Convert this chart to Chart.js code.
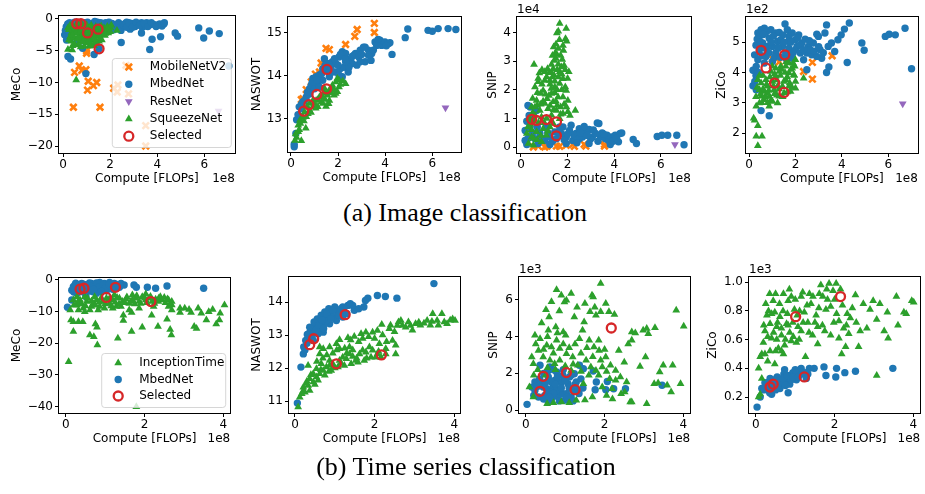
<!DOCTYPE html>
<html>
<head>
<meta charset="utf-8">
<script src="https://cdn.jsdelivr.net/npm/chart.js@4.4.1/dist/chart.umd.min.js"></script>
<style>
  body { margin: 0; background: #fff; width: 925px; height: 494px; position: relative; overflow: hidden; }
  canvas.panel { position: absolute; }
  .caption { position: absolute; font-family: "Liberation Serif", serif; font-size: 26px; line-height: 26px;
             color: #000; white-space: nowrap; transform: translateX(-50%); }
</style>
</head>
<body>
<canvas id="p1" class="panel"></canvas>
<canvas id="p2" class="panel"></canvas>
<canvas id="p3" class="panel"></canvas>
<canvas id="p4" class="panel"></canvas>
<canvas id="p5" class="panel"></canvas>
<canvas id="p6" class="panel"></canvas>
<canvas id="p7" class="panel"></canvas>
<canvas id="p8" class="panel"></canvas>
<div class="caption" style="left:465px; top:200px;">(a) Image classification</div>
<div class="caption" style="left:466px; top:454px;">(b) Time series classification</div>

<script>
// ---- tick labels ----
const xTicksImg = [0, 2, 4, 6];
const xTicksTs = [0, 2, 4];
const yTicksImgMeco = [0, -5, -10, -15, -20];
const yTicksImgNaswot = [13, 14, 15];
const yTicksImgSnip = [0, 1, 2, 3, 4];
const yTicksImgZico = [2, 3, 4, 5];
const yTicksTsMeco = [0, -10, -20, -30, -40];
const yTicksTsNaswot = [11, 12, 13, 14];
const yTicksTsSnip = [0, 2, 4, 6];
const yTicksTsZico = [0.2, 0.4, 0.6, 0.8, 1.0];

// ---- image classification: x in 1e8 FLOPs ----
const imgMecoMobile = [[0.44,-13.9],[0.49,-8.4],[0.69,-7.4],[0.8,-8.1],[0.97,-8.0],[1.0,-5.4],[1.0,-5.0],[1.07,-9.8],[1.04,-11.2],[1.29,-10.5],[1.43,-10.0],[1.57,-13.9],[2.15,-10.9],[2.3,-11.5],[2.33,-10.4],[2.67,-7.3],[2.78,-11.8],[3.51,-16.8],[3.51,-20.0]];
const imgMecoMbed = [[0.07,-2.5],[0.14,-1.2],[0.28,-0.6],[0.35,-1.9],[0.49,-0.5],[0.69,-1.3],[0.83,-0.9],[1.04,-0.5],[1.25,-0.7],[1.25,-1.6],[1.46,-0.5],[1.67,-0.9],[1.67,-1.9],[1.81,-0.6],[1.81,-1.4],[2.0,-1.2],[2.08,-0.7],[2.15,-1.7],[2.22,-1.1],[2.36,-0.6],[2.46,-1.8],[2.5,-1.2],[2.64,-0.7],[2.78,-1.1],[2.85,-1.6],[2.92,-0.7],[3.06,-1.2],[3.19,-0.8],[3.33,-0.6],[3.36,-1.3],[3.33,-2.2],[3.47,-1.1],[3.68,-0.9],[3.89,-0.9],[4.1,-0.8],[4.28,-0.8],[3.78,-3.2],[3.68,-4.8],[4.14,-2.8],[2.47,-3.7],[4.76,-2.2],[4.86,-2.7],[5.76,-1.4],[5.97,-3.0],[6.21,-1.9],[6.63,-2.3],[7.04,-7.4],[0.21,-5.9],[0.32,-6.3],[0.97,-8.6],[1.32,-5.6],[1.53,-4.7],[0.56,-3.8],[0.83,-4.6],[0.6,-0.9],[0.95,-1.2],[1.15,-1.0],[1.55,-1.1],[1.95,-0.5],[2.7,-0.5],[3.0,-1.0],[3.55,-0.6],[0.15,-3.3],[0.35,-2.9],[0.1,-1.8],[0.4,-1.0],[0.55,-1.6],[0.9,-0.6],[1.1,-1.3],[1.35,-0.4],[1.6,-0.6],[1.75,-1.1],[1.9,-0.9],[2.05,-1.5],[2.3,-0.9],[2.4,-1.4],[2.55,-0.9],[2.7,-1.3],[2.8,-0.6],[2.95,-1.3],[3.1,-0.5],[3.25,-1.0],[3.45,-0.7],[3.6,-1.2],[3.75,-0.6],[3.95,-1.2],[4.2,-1.1],[4.3,-0.6],[0.2,-0.8],[0.25,-2.2]];
const imgMecoRes = [[6.6,-14.5]];
const imgMecoSqueeze = [[0.21,-1.4],[0.35,-2.2],[0.42,-1.2],[0.49,-3.0],[0.63,-1.7],[0.69,-2.5],[0.76,-3.5],[0.83,-1.2],[0.9,-1.9],[0.97,-3.0],[1.04,-3.8],[1.11,-1.4],[1.18,-2.5],[1.25,-3.3],[1.32,-1.9],[1.39,-1.2],[1.46,-2.7],[1.53,-3.5],[1.6,-1.7],[1.67,-2.5],[1.74,-1.4],[1.81,-1.9],[1.88,-1.2],[1.94,-1.7],[2.01,-1.4],[2.29,-1.8],[0.21,-4.8],[0.39,-4.9],[0.56,-9.6],[0.35,-3.5],[0.63,-4.1],[0.9,-4.3],[1.11,-4.3],[1.32,-4.2],[0.56,-0.9],[1.0,-0.9],[0.76,-0.6],[0.3,-1.0],[0.3,-2.8],[0.45,-1.8],[0.55,-2.2],[0.6,-3.2],[0.7,-1.1],[0.8,-2.9],[0.88,-1.5],[0.95,-2.4],[1.0,-3.4],[1.1,-2.0],[1.15,-3.1],[1.2,-1.0],[1.28,-2.3],[1.35,-3.0],[1.42,-1.5],[1.5,-2.2],[1.58,-3.0],[1.62,-1.1],[1.7,-2.0],[1.78,-2.6],[1.85,-1.6],[1.92,-2.2],[1.2,-4.0],[0.5,-4.0],[0.75,-4.4],[1.45,-3.9],[0.25,-1.7],[0.25,-3.3],[0.4,-2.5],[0.4,-4.2],[0.5,-1.5],[0.65,-2.9],[0.65,-0.9],[0.72,-2.0],[0.85,-3.6],[0.85,-2.3],[0.92,-1.0],[1.05,-1.7],[1.05,-2.7],[1.15,-3.7],[1.22,-1.6],[1.3,-2.7],[1.38,-3.6],[1.4,-2.1],[1.55,-1.3],[1.55,-2.6],[1.65,-3.3],[1.72,-1.7],[1.8,-2.3],[1.9,-1.5],[2.0,-2.0],[2.05,-1.0]];
const imgMecoSel = [[0.58,-0.75],[0.76,-0.75],[1.04,-2.2],[1.49,-1.6],[1.53,-4.7]];

const imgNaswotMobile = [[0.44,13.45],[0.51,13.47],[0.65,13.68],[0.86,13.86],[1.04,14.04],[1.21,14.09],[1.28,14.3],[1.49,14.64],[1.63,14.61],[2.32,14.73],[2.71,14.92],[2.81,15.08],[3.54,15.22],[3.54,15.01]];
const imgNaswotMbed = [[0.14,12.35],[0.14,12.41],[0.21,12.66],[0.24,12.98],[0.35,13.28],[0.51,13.4],[0.65,13.51],[0.79,13.7],[0.86,13.78],[0.93,13.94],[1.07,13.98],[1.21,14.02],[1.42,14.4],[1.49,14.13],[1.63,14.25],[1.76,14.33],[1.9,14.29],[2.04,14.44],[2.18,14.56],[2.32,14.52],[2.39,14.36],[2.53,14.4],[2.6,14.29],[2.74,14.52],[2.8,14.25],[2.94,14.6],[3.08,14.67],[3.15,14.33],[3.29,14.6],[3.4,14.36],[3.43,14.52],[3.57,14.79],[3.78,14.83],[3.85,14.71],[3.99,14.79],[4.13,14.75],[4.2,14.77],[4.29,14.5],[4.85,14.89],[4.96,15.09],[5.82,15.06],[6.0,15.04],[6.25,15.1],[6.67,15.1],[7.0,15.08],[1.9,14.09],[2.1,14.17],[2.18,13.98],[2.25,14.2],[2.43,14.09],[2.04,14.02],[2.46,14.2],[1.63,13.98],[1.35,13.9],[1.14,13.82],[1.0,13.7],[1.76,14.09],[1.21,13.74],[0.79,13.58],[0.58,13.43],[0.44,13.24],[1.35,14.17],[1.56,14.29],[2.32,14.33],[2.67,14.48],[2.88,14.44],[3.15,14.67],[2.94,14.33],[3.29,14.48],[3.64,14.71],[0.3,13.1],[0.45,13.35],[0.7,13.62],[0.9,13.85],[1.1,13.9],[1.3,14.05],[1.45,14.25],[1.7,14.2],[1.85,14.4],[2.0,14.25],[2.1,14.5],[2.3,14.4],[2.6,14.45],[3.0,14.5],[3.5,14.6],[3.7,14.85],[4.05,14.7]];
const imgNaswotRes = [[6.56,13.26]];
const imgNaswotSqueeze = [[0.17,12.5],[0.24,12.57],[0.44,12.49],[0.31,12.85],[0.38,12.97],[0.51,13.03],[0.63,12.78],[0.72,13.12],[0.79,13.2],[0.93,13.28],[1.0,13.36],[1.07,13.43],[1.14,13.28],[1.21,13.51],[1.35,13.51],[1.49,13.59],[1.63,13.67],[1.76,13.78],[1.9,13.86],[1.97,13.94],[2.04,13.74],[1.49,13.29],[1.35,13.36],[1.63,13.43],[1.83,13.55],[1.9,13.59],[1.97,13.63],[2.32,13.82],[2.04,13.9],[1.76,13.67],[1.42,13.71],[0.93,13.43],[0.79,13.36],[0.68,13.28],[0.58,13.16],[0.49,13.05],[0.4,12.89],[0.31,12.7],[0.2,12.65],[0.35,12.75],[0.55,12.95],[0.65,13.05],[0.85,13.15],[1.05,13.25],[1.15,13.45],[1.3,13.4],[1.45,13.45],[1.55,13.55],[1.7,13.6],[1.8,13.72],[2.1,13.8],[2.2,13.88],[1.6,13.35],[1.4,13.62]];
const imgNaswotSel = [[0.54,13.18],[0.76,13.33],[1.1,13.57],[1.51,13.7],[1.53,14.15]];

// SNIP in 1e4
const imgSnipMobile = [[1.12,0.03],[2.22,0.09],[2.29,0.02],[2.71,0.09],[2.78,0.03],[3.58,0.03],[3.58,0.09],[0.74,0.03],[1.02,0.0],[0.53,0.0],[1.52,0.03],[1.94,0.06],[1.66,0.02]];
const imgSnipMbed = [[0.18,0.58],[0.18,0.23],[0.25,0.09],[0.39,0.7],[0.6,0.29],[0.81,0.47],[1.02,0.23],[1.24,0.35],[1.45,0.53],[1.73,0.47],[1.8,0.7],[1.94,0.35],[2.08,0.58],[2.22,0.23],[2.36,0.47],[2.5,0.64],[2.64,0.35],[2.78,0.53],[2.92,0.61],[3.06,0.35],[3.27,0.84],[3.34,0.82],[3.41,0.35],[3.62,0.29],[3.76,0.23],[3.9,0.35],[4.04,0.41],[4.18,0.18],[4.25,0.47],[4.32,0.49],[4.81,0.26],[4.95,0.12],[5.84,0.37],[6.04,0.41],[6.29,0.41],[6.68,0.41],[6.99,0.08],[0.39,1.4],[0.67,1.28],[1.09,0.7],[1.52,0.29],[1.66,0.7],[2.15,0.76],[2.29,0.41],[2.5,0.29],[2.71,0.72],[2.99,0.29],[3.2,0.47],[3.48,0.49],[3.69,0.41],[0.74,0.12],[1.24,0.09],[1.94,0.12],[2.92,0.12],[3.83,0.09],[0.3,0.3],[0.5,0.5],[0.7,0.7],[0.9,0.3],[1.15,0.5],[1.35,0.2],[1.6,0.5],[1.85,0.25],[2.0,0.45],[2.4,0.15],[2.55,0.5],[2.85,0.4],[3.1,0.6],[3.3,0.2],[3.55,0.45],[3.95,0.2],[4.1,0.3],[0.25,0.9],[0.35,1.1],[0.5,1.0],[0.3,1.45]];
const imgSnipRes = [[6.6,0.09]];
const imgSnipSqueeze = [[1.66,4.32],[1.54,3.99],[1.94,4.15],[1.6,4.05],[1.91,3.79],[1.96,3.7],[1.47,3.29],[1.54,3.24],[0.56,2.89],[1.31,2.89],[1.38,2.74],[1.73,2.8],[0.79,2.59],[1.02,2.63],[2.05,2.63],[1.66,2.63],[0.74,2.28],[1.24,2.33],[1.8,2.39],[0.95,1.98],[1.45,2.1],[1.94,1.98],[0.67,1.63],[1.12,1.69],[1.59,1.75],[2.01,1.63],[2.33,1.28],[0.46,1.4],[0.81,1.28],[1.16,1.34],[1.52,1.28],[1.8,1.17],[2.01,1.23],[0.53,0.93],[0.88,1.05],[1.31,1.11],[1.66,0.99],[0.25,0.47],[0.46,0.35],[0.67,0.53],[0.95,0.64],[1.24,0.7],[0.32,0.12],[0.53,0.06],[0.88,0.18],[1.09,0.41],[1.38,0.82],[1.02,2.33],[1.42,2.51],[1.66,2.22],[1.14,2.74],[1.42,3.03],[1.77,3.06],[1.82,3.38],[0.74,2.4],[0.84,1.87],[1.31,1.87],[1.8,1.75],[0.7,1.46],[1.02,1.52],[1.38,1.58],[1.5,3.6],[1.6,3.45],[1.25,2.2],[1.35,2.45],[1.55,2.0],[1.7,1.4],[1.25,1.45],[0.95,1.6],[0.6,1.1],[0.4,0.8],[0.75,0.85],[1.1,1.0],[1.5,1.6],[1.2,2.6],[0.9,2.2],[1.45,1.9],[1.6,2.9],[1.9,2.1],[1.5,3.1],[1.7,3.2],[1.55,2.7],[1.75,2.55],[1.9,2.7],[1.45,2.3],[1.3,2.05],[1.2,1.8],[1.05,1.85],[0.85,1.5],[0.7,1.9],[0.6,1.4],[0.5,1.2],[0.35,1.0],[0.3,0.7],[0.45,0.6],[0.55,0.3],[0.7,0.25],[0.85,0.4],[1.0,0.85],[1.15,0.55],[1.3,0.9],[1.4,1.3],[1.55,1.45],[1.7,1.15],[1.85,1.5],[1.95,1.4],[2.1,1.1],[1.6,2.45],[1.75,2.0],[1.85,2.85],[2.0,2.4],[1.3,2.6],[1.1,2.45],[0.9,2.7],[0.6,2.1],[0.5,1.7],[1.65,3.75],[1.8,3.55],[1.4,3.5],[1.35,3.2]];
const imgSnipSel = [[0.46,0.97],[0.67,0.93],[1.09,0.96],[1.52,0.88],[1.52,0.39]];

// ZiCo in 1e2
const imgZicoMobile = [[3.58,4.55],[2.73,4.33],[2.73,3.78],[2.35,4.03],[1.0,4.45],[1.3,4.35]];
const imgZicoMbed = [[0.17,4.07],[0.17,3.56],[0.31,3.43],[0.52,2.74],[0.87,2.57],[0.38,5.3],[0.52,5.41],[0.66,5.46],[0.76,5.35],[0.94,5.41],[1.15,5.3],[1.3,5.32],[1.55,5.6],[1.65,5.41],[1.72,5.19],[1.86,5.3],[2.0,5.08],[2.14,5.24],[2.28,4.97],[2.42,5.1],[2.56,4.86],[2.77,4.97],[2.92,5.26],[3.06,4.75],[3.13,4.47],[3.27,5.3],[3.34,5.57],[3.41,4.86],[3.55,4.97],[3.69,4.69],[3.83,5.08],[3.97,5.24],[4.11,5.43],[4.32,5.63],[4.23,4.33],[3.44,4.18],[3.34,4.0],[4.86,4.97],[4.96,4.73],[5.87,5.19],[6.04,5.26],[6.3,5.24],[6.72,5.46],[7.0,4.12],[0.45,4.75],[0.59,4.97],[0.87,5.13],[1.01,4.86],[1.23,5.02],[1.44,4.86],[1.72,4.8],[2.0,4.75],[2.21,4.64],[2.49,4.64],[2.7,4.58],[2.92,4.53],[2.49,4.09],[2.35,4.42],[2.07,4.86],[1.37,5.08],[0.73,4.53],[0.38,4.42],[0.45,5.19],[0.8,4.86],[1.15,4.64],[1.58,4.64],[1.86,4.47],[1.01,4.36],[0.66,4.31],[0.31,4.2],[0.24,4.58],[1.46,5.24],[1.72,5.02],[2.99,5.19],[2.63,4.75],[0.3,4.9],[0.35,5.1],[0.5,5.0],[0.55,4.55],[0.62,5.25],[0.7,4.8],[0.85,4.65],[0.95,5.0],[1.05,5.2],[1.1,4.5],[1.25,4.8],[1.35,4.5],[1.5,5.0],[1.6,4.45],[1.8,5.0],[1.9,4.65],[2.1,5.15],[2.2,4.9],[2.35,4.75],[2.6,5.05],[2.8,4.7],[3.0,4.85],[3.2,4.65],[0.3,3.9],[0.25,3.7],[0.4,4.0]];
const imgZicoRes = [[6.62,2.97]];
const imgZicoSqueeze = [[0.2,2.49],[0.24,2.42],[0.31,1.89],[0.56,1.89],[0.38,2.24],[0.38,1.58],[0.31,2.88],[0.45,2.99],[0.87,2.88],[1.23,2.99],[2.35,3.81],[2.0,4.42],[0.52,3.21],[0.66,3.37],[0.8,3.54],[1.01,3.7],[1.15,3.87],[1.3,4.03],[1.58,4.2],[1.72,4.31],[1.86,4.14],[1.93,3.92],[2.0,3.7],[1.72,3.54],[1.58,3.76],[1.44,3.54],[1.3,3.21],[1.08,3.43],[0.87,3.21],[0.66,3.1],[0.45,3.43],[0.38,3.76],[0.73,3.76],[0.94,4.03],[1.23,3.54],[1.51,3.32],[1.79,3.37],[2.0,3.48],[1.01,3.04],[0.52,3.65],[1.72,3.98],[1.37,4.2],[1.15,4.14],[0.8,3.32],[1.97,4.2],[0.3,3.2],[0.35,3.5],[0.45,3.9],[0.55,3.0],[0.6,3.45],[0.6,3.9],[0.7,3.2],[0.75,3.6],[0.85,3.4],[0.9,3.85],[0.95,3.1],[1.05,3.55],[1.1,3.95],[1.2,3.25],[1.2,3.75],[1.3,3.45],[1.35,3.9],[1.45,3.2],[1.5,3.7],[1.55,4.0],[1.65,3.35],[1.65,3.85],[1.75,3.65],[1.8,4.1],[1.85,3.5],[1.95,3.9],[1.4,4.1],[1.1,3.3],[0.8,3.0],[0.5,3.3],[1.0,4.2],[1.6,4.35],[1.9,4.3]];
const imgZicoSel = [[0.52,4.73],[0.73,4.15],[1.1,3.65],[1.54,4.58],[1.51,3.34]];

// ---- time series classification ----
const tsMecoIncep = [[0.07,-25.8],[0.13,-12.6],[0.19,-13.2],[0.19,-16.3],[0.32,-13.2],[0.43,-13.2],[0.61,-17.4],[0.71,-17.9],[0.75,-13.9],[0.79,-14.9],[0.8,-20.5],[1.32,-18.4],[1.46,-11.1],[1.46,-12.8],[1.67,-16.3],[1.67,-10.3],[1.94,-14.9],[1.79,-40.0],[2.18,-11.1],[2.34,-14.7],[2.57,-12.4],[2.65,-15.6],[2.68,-17.4],[2.69,-9.5],[2.69,-7.9],[2.9,-10.3],[3.02,-8.9],[3.13,-9.3],[3.18,-10.3],[3.26,-14.7],[3.32,-15.3],[3.36,-8.9],[3.44,-10.5],[3.57,-12.6],[3.63,-10.0],[3.73,-9.3],[3.82,-13.9],[3.9,-12.6],[4.03,-7.9],[3.92,-10.5],[2.9,-8.9],[0.11,-9.5],[0.19,-6.3],[0.28,-7.9],[0.36,-6.3],[0.44,-8.9],[0.53,-6.8],[0.61,-9.5],[0.69,-7.4],[0.78,-6.3],[0.86,-8.4],[0.94,-6.8],[1.03,-5.8],[1.11,-7.4],[1.19,-6.3],[1.28,-8.4],[1.36,-5.8],[1.44,-6.8],[1.53,-6.1],[1.61,-7.4],[1.69,-6.3],[1.78,-5.8],[1.86,-6.8],[1.94,-5.3],[2.03,-6.3],[2.11,-5.8],[2.19,-6.8],[2.28,-6.1],[2.36,-5.8],[2.44,-6.3],[2.53,-7.2],[2.61,-6.3],[2.69,-6.8],[0.32,-9.5],[0.48,-10.0],[0.65,-8.4],[0.82,-9.5],[0.98,-8.9],[1.19,-8.9],[1.4,-8.4],[1.61,-9.5],[0.28,-5.3],[0.48,-5.3],[0.73,-5.3],[1.23,-4.7],[1.69,-4.7],[2.03,-4.4],[2.4,-5.3],[1.86,-8.9],[2.23,-8.4],[2.61,-8.4],[0.2,-8.0],[0.3,-7.0],[0.4,-7.6],[0.5,-8.2],[0.55,-5.8],[0.65,-6.6],[0.75,-8.0],[0.85,-7.0],[0.9,-5.6],[1.0,-7.6],[1.1,-6.0],[1.15,-8.2],[1.25,-7.0],[1.3,-5.5],[1.35,-7.6],[1.5,-7.2],[1.55,-5.4],[1.65,-6.8],[1.75,-7.6],[1.8,-5.0],[1.9,-7.4],[2.0,-5.8],[2.05,-7.2],[2.15,-5.2],[2.25,-7.4],[2.35,-6.8],[2.5,-5.5],[2.58,-6.0],[2.65,-7.6]];
const tsMecoMbed = [[0.04,-8.6],[0.15,-6.3],[0.15,-3.2],[0.23,-1.6],[0.32,-2.1],[0.4,-1.1],[0.48,-2.6],[0.57,-1.6],[0.65,-1.1],[0.73,-2.3],[0.82,-1.3],[0.9,-1.9],[0.98,-1.1],[1.07,-2.1],[1.15,-1.3],[1.23,-1.1],[1.32,-1.9],[1.4,-1.1],[1.48,-1.6],[1.73,-1.6],[1.79,-2.3],[2.07,-2.3],[2.28,-2.6],[2.57,-1.9],[3.5,-2.6],[0.51,-5.3],[0.28,-4.2],[0.36,-3.7],[0.53,-3.2],[0.69,-3.7],[0.86,-2.9],[1.03,-3.4],[1.19,-2.9],[0.78,-4.2],[0.44,-1.9],[0.61,-2.6],[0.94,-2.6],[1.28,-2.6],[0.28,-2.6],[0.19,-2.1],[0.86,-0.8],[1.11,-0.8],[1.36,-2.3],[0.25,-1.0],[0.35,-1.6],[0.45,-1.3],[0.55,-2.2],[0.6,-0.9],[0.7,-1.7],[0.78,-0.9],[0.85,-2.1],[0.95,-1.6],[1.0,-2.6],[1.1,-1.6],[1.2,-2.0],[1.3,-1.4],[1.38,-1.8],[0.4,-3.3],[0.6,-3.5],[0.7,-3.0],[0.9,-3.6],[0.5,-4.4],[0.2,-3.8]];
const tsMecoSel = [[0.36,-2.9],[0.46,-2.6],[1.03,-5.5],[1.26,-2.3],[2.16,-6.8]];

const tsNaswotIncep = [[0.08,10.82],[0.12,11.12],[0.17,11.22],[0.25,11.27],[0.33,11.47],[0.37,11.32],[0.46,11.58],[0.54,11.73],[0.62,11.83],[0.71,11.93],[0.79,12.03],[0.87,12.08],[0.95,12.13],[1.12,12.23],[1.29,12.28],[1.45,12.35],[1.62,12.43],[1.78,12.48],[1.95,12.54],[2.16,12.33],[2.28,12.59],[2.53,12.69],[0.33,12.08],[0.62,12.43],[0.71,12.59],[0.87,12.64],[1.04,12.74],[1.12,12.86],[1.33,12.92],[1.49,12.96],[1.66,13.04],[1.78,13.09],[1.95,13.09],[2.07,13.14],[2.18,13.32],[2.37,13.19],[2.57,13.29],[2.66,13.44],[2.78,13.24],[2.9,13.29],[3.03,13.34],[3.11,13.39],[3.24,13.36],[3.32,13.44],[3.44,13.41],[3.57,13.44],[3.69,13.65],[3.82,13.34],[3.96,13.49],[4.02,13.44],[3.46,13.65],[2.7,13.29],[2.45,12.84],[2.28,12.43],[2.03,12.33],[1.87,12.64],[1.7,12.54],[1.53,12.23],[1.37,12.43],[1.2,12.33],[0.87,12.23],[0.66,12.13],[0.54,11.98],[0.46,11.83],[0.37,11.68],[0.29,11.53],[0.21,11.42],[0.58,11.63],[0.75,11.78],[0.91,11.93],[1.08,12.03],[1.24,12.08],[1.41,12.13],[1.58,12.18],[1.74,12.23],[1.91,12.33],[2.07,12.43],[0.62,12.64],[1.12,12.59],[1.37,12.64],[2.12,12.74],[2.53,12.43],[0.2,11.3],[0.3,11.6],[0.4,11.8],[0.5,11.5],[0.55,12.2],[0.65,11.95],[0.7,12.3],[0.8,12.4],[0.85,11.9],[0.95,12.45],[1.0,12.0],[1.05,12.55],[1.15,12.15],[1.25,12.6],[1.3,12.45],[1.4,12.85],[1.45,12.55],[1.55,12.3],[1.6,12.8],[1.7,12.9],[1.8,12.3],[1.85,12.95],[2.0,12.9],[2.1,12.5],[2.2,13.0],[2.3,12.8],[2.4,13.3],[2.5,13.1],[2.6,13.4],[2.85,13.4],[2.95,13.15],[3.15,13.3],[3.4,13.3],[3.6,13.3],[3.75,13.4],[3.9,13.45]];
const tsNaswotMbed = [[0.06,10.94],[0.15,12.03],[0.21,12.43],[0.22,12.64],[0.27,12.84],[0.31,13.02],[0.37,12.94],[0.41,13.19],[0.5,13.29],[0.56,13.49],[0.62,13.39],[0.66,13.6],[0.75,13.7],[0.79,13.55],[0.85,13.8],[0.91,13.65],[1.0,13.85],[1.08,13.7],[1.16,13.8],[1.24,13.7],[1.33,13.9],[1.39,13.95],[1.49,13.75],[1.73,13.85],[1.77,14.05],[1.83,14.12],[2.07,14.2],[2.27,14.17],[2.56,14.12],[3.49,14.56],[0.5,13.09],[0.58,13.19],[0.71,13.29],[0.83,13.44],[0.95,13.55],[1.04,13.44],[0.71,13.09],[0.37,13.24],[0.46,12.84],[0.58,13.04],[0.87,13.34],[1.2,13.55],[0.77,13.42],[0.25,12.55],[0.3,12.75],[0.35,13.05],[0.43,12.95],[0.48,13.4],[0.53,13.15],[0.6,13.3],[0.68,13.45],[0.72,13.2],[0.8,13.65],[0.9,13.5],[0.95,13.75],[1.1,13.6],[1.2,13.85],[1.3,13.65],[1.45,13.9],[1.6,13.8]];
const tsNaswotSel = [[0.37,12.71],[0.47,12.89],[1.26,13.62],[1.04,12.13],[2.17,12.4]];

// SNIP in 1e3
const tsSnipIncep = [[0.78,6.56],[0.9,6.25],[0.98,5.89],[1.03,5.98],[1.15,6.35],[1.68,6.25],[1.71,6.16],[1.9,6.89],[2.03,5.8],[0.51,5.47],[0.4,4.75],[0.59,5.07],[0.76,4.53],[0.57,4.35],[0.95,4.25],[1.01,4.07],[1.23,5.07],[1.48,4.8],[1.63,5.35],[1.78,5.16],[1.9,5.35],[2.11,5.35],[0.23,4.07],[0.36,3.89],[0.53,3.53],[0.65,3.44],[0.78,3.8],[0.86,3.35],[1.03,3.07],[1.19,2.89],[1.36,3.89],[1.44,4.35],[1.61,3.8],[1.73,3.44],[1.86,3.25],[2.03,2.89],[0.15,2.89],[0.19,2.53],[0.32,3.25],[0.44,2.89],[0.61,2.71],[0.73,2.53],[0.86,2.71],[1.15,2.16],[1.32,2.44],[1.53,2.71],[1.65,2.35],[1.78,2.16],[1.9,2.71],[1.94,2.35],[2.15,2.44],[2.28,2.16],[2.36,3.25],[2.4,1.8],[2.28,1.62],[2.51,0.98],[2.56,1.53],[2.65,0.44],[2.69,4.25],[2.78,4.2],[2.9,2.38],[2.98,4.35],[3.07,4.44],[3.11,4.16],[3.07,0.35],[3.04,2.89],[3.26,1.44],[3.28,4.49],[3.4,2.07],[3.49,2.44],[3.59,1.35],[3.73,2.44],[3.82,5.44],[3.93,1.44],[4.01,4.56],[3.69,0.98],[2.69,0.44],[2.42,0.89],[2.05,0.8],[1.69,0.71],[1.28,0.53],[0.9,0.44],[0.54,0.35],[0.19,0.71],[0.09,1.25],[1.94,1.25],[2.19,1.16],[1.46,1.44],[2.13,1.71],[2.69,3.8],[3.36,1.47],[0.25,3.6],[0.45,3.3],[0.55,4.0],[0.7,3.1],[0.8,4.2],[0.95,3.6],[1.1,3.4],[1.25,3.6],[1.4,3.1],[1.55,3.4],[1.7,2.9],[1.85,3.8],[2.0,3.3],[0.3,2.2],[0.55,2.3],[0.75,2.2],[1.0,2.4],[1.2,2.5],[1.4,2.1],[1.6,1.9],[1.85,1.9],[2.05,2.1],[0.2,1.9],[0.5,1.9],[1.1,0.4],[1.5,0.55],[0.7,0.4],[2.2,0.6],[2.5,2.6],[2.6,3.6],[1.3,5.6],[1.5,5.8],[1.75,5.6],[2.25,5.2],[0.65,5.9],[0.85,5.4]];
const tsSnipMbed = [[0.03,0.31],[0.15,1.25],[0.23,1.07],[0.36,2.44],[0.4,1.44],[0.48,0.8],[0.57,1.8],[0.61,2.35],[0.65,0.62],[0.69,1.25],[0.73,1.62],[0.78,2.07],[0.82,0.71],[0.86,1.07],[0.9,1.53],[0.94,1.89],[0.98,0.53],[1.03,0.89],[1.07,1.44],[1.11,1.8],[1.19,1.07],[1.28,1.53],[1.36,2.44],[1.46,2.25],[1.71,2.13],[1.76,1.11],[1.79,1.53],[2.03,1.11],[2.07,1.56],[2.23,1.16],[2.53,1.16],[3.46,1.35],[0.32,0.71],[0.44,1.25],[0.53,1.16],[0.65,1.53],[0.78,1.07],[0.94,0.89],[1.15,0.71],[1.32,1.07],[1.23,1.98],[0.57,0.44],[0.23,1.53],[0.2,0.8],[0.3,1.3],[0.35,1.7],[0.45,0.6],[0.5,1.5],[0.55,2.1],[0.6,1.0],[0.7,0.9],[0.7,2.2],[0.75,1.4],[0.8,1.8],[0.85,0.5],[0.9,1.2],[0.95,2.2],[1.0,1.6],[1.05,0.7],[1.1,1.2],[1.15,1.9],[1.2,0.5],[1.25,1.4],[1.35,0.9],[1.4,1.7],[1.45,1.2],[0.45,2.0],[0.6,0.7]];
const tsSnipSel = [[0.36,1.02],[0.44,1.84],[1.03,2.04],[1.25,1.11],[2.17,4.47]];

// ZiCo in 1e3
const tsZicoIncep = [[0.07,0.2],[0.11,0.22],[0.15,0.33],[0.07,0.4],[0.11,0.48],[0.15,0.5],[0.19,0.58],[0.23,0.66],[0.28,0.77],[0.32,0.8],[0.36,0.71],[0.4,0.61],[0.44,0.87],[0.48,0.79],[0.53,0.69],[0.57,0.54],[0.61,0.76],[0.65,0.63],[0.69,0.8],[0.73,0.56],[0.78,0.71],[0.82,0.87],[0.86,0.65],[0.9,0.9],[0.94,0.72],[1.03,0.58],[1.07,0.69],[1.11,0.8],[1.19,0.93],[1.23,0.79],[1.26,0.48],[1.32,0.72],[1.36,0.92],[1.44,0.63],[1.53,0.77],[1.57,0.57],[1.65,0.98],[1.69,0.7],[1.78,0.81],[1.86,0.99],[1.9,0.63],[1.98,0.72],[2.04,0.99],[2.11,0.61],[2.18,0.5],[2.23,0.68],[2.32,0.78],[2.36,0.64],[2.53,0.91],[2.61,0.55],[2.73,0.85],[2.82,0.68],[2.9,0.81],[2.98,0.87],[3.07,0.74],[3.07,0.35],[3.15,0.85],[3.26,0.66],[3.34,0.79],[3.36,0.61],[3.57,0.9],[3.61,0.7],[3.76,0.79],[3.82,0.78],[3.96,0.87],[4.01,0.86],[0.82,0.7],[0.98,0.81],[1.15,0.66],[0.9,0.59],[0.65,0.52],[0.53,0.6],[1.61,0.92],[1.82,0.88],[1.96,0.94],[2.11,0.73],[2.28,0.55],[2.4,0.75],[1.4,0.85],[1.57,0.69],[0.36,0.52],[0.23,0.5],[0.48,0.43],[0.2,0.7],[0.25,0.85],[0.3,0.62],[0.35,0.92],[0.4,0.78],[0.45,0.65],[0.5,0.92],[0.55,0.72],[0.6,0.85],[0.65,0.68],[0.7,0.92],[0.75,0.6],[0.8,0.78],[0.85,0.95],[0.95,0.62],[1.0,0.88],[1.05,0.77],[1.1,0.6],[1.15,0.9],[1.2,0.72],[1.3,0.84],[1.35,0.65],[1.45,0.9],[1.5,0.72],[1.6,0.82],[1.7,0.9],[1.75,0.66],[1.8,0.95],[1.9,0.83],[2.0,0.88],[2.05,0.78],[2.15,0.95],[2.2,0.84],[2.3,0.7],[2.45,0.82],[2.55,0.72],[2.65,0.66],[0.3,0.45],[0.5,0.52],[0.7,0.5]];
const tsZicoMbed = [[0.03,0.13],[0.11,0.2],[0.15,0.26],[0.23,0.3],[0.32,0.25],[0.36,0.33],[0.48,0.3],[0.54,0.34],[0.65,0.3],[0.71,0.36],[0.78,0.33],[0.86,0.35],[0.94,0.37],[1.03,0.32],[1.11,0.38],[1.19,0.36],[1.32,0.36],[1.36,0.4],[1.48,0.4],[1.73,0.41],[1.78,0.35],[2.03,0.34],[2.05,0.4],[2.26,0.37],[2.53,0.38],[3.48,0.4],[0.44,0.27],[0.61,0.26],[0.82,0.23],[0.86,0.29],[1.03,0.36],[0.73,0.39],[0.4,0.22],[0.57,0.28],[0.28,0.27],[0.2,0.25],[0.3,0.3],[0.4,0.29],[0.5,0.25],[0.55,0.31],[0.6,0.3],[0.68,0.33],[0.75,0.28],[0.8,0.35],[0.9,0.32],[0.95,0.34],[1.0,0.39],[1.08,0.34],[1.15,0.4],[1.25,0.37],[1.28,0.33],[0.45,0.32],[0.35,0.23]];
const tsZicoSel = [[0.36,0.27],[0.44,0.29],[1.23,0.34],[1.01,0.76],[2.15,0.9]];

// ---- marker styles (matplotlib tab10) ----
const STYLES = {
  mobile:    { label: "MobileNetV2", style: "crossRot", r: 4.6, fill: "#ff7f0e", line: "#ff7f0e", lw: 2.6, rot: 0, order: 4 },
  mbed:      { label: "MbedNet", style: "circle", r: 3.7, fill: "#1f77b4", line: "#1f77b4", lw: 0, rot: 0, order: 3 },
  res:       { label: "ResNet", style: "triangle", r: 4.5, fill: "#9467bd", line: "#9467bd", lw: 0, rot: 180, order: 2 },
  squeeze:   { label: "SqueezeNet", style: "triangle", r: 4.5, fill: "#2ca02c", line: "#2ca02c", lw: 0, rot: 0, order: 1 },
  inception: { label: "InceptionTime", style: "triangle", r: 4.5, fill: "#2ca02c", line: "#2ca02c", lw: 0, rot: 0, order: 3 },
  sel:       { label: "Selected", style: "circle", r: 4.5, fill: "rgba(0,0,0,0)", line: "#d62728", lw: 2.3, rot: 0, order: 0 }
};

const FONT = '"DejaVu Sans", sans-serif';

const panels = [
  { id: "p1", box: [59, 16, 238, 153], x: [-0.17, 7.29], y: [-21.1, 0.47], xTicks: xTicksImg, yTicks: yTicksImgMeco,
    yLabel: "MeCo", yOff: 42, yExp: "",
    series: [["mobile", imgMecoMobile], ["mbed", imgMecoMbed], ["res", imgMecoRes], ["squeeze", imgMecoSqueeze], ["sel", imgMecoSel]],
    legend: { w: 119, h: 89, right: 4, bottom: 6, rowTop: 9, step: 17.3 } },
  { id: "p2", box: [288, 17, 464, 152], x: [-0.125, 7.21], y: [12.23, 15.37], xTicks: xTicksImg, yTicks: yTicksImgNaswot,
    yLabel: "NASWOT", yOff: 31, yExp: "",
    series: [["mobile", imgNaswotMobile], ["mbed", imgNaswotMbed], ["res", imgNaswotRes], ["squeeze", imgNaswotSqueeze], ["sel", imgNaswotSel]] },
  { id: "p3", box: [517, 17, 694, 153], x: [-0.17, 7.28], y: [-0.21, 4.55], xTicks: xTicksImg, yTicks: yTicksImgSnip,
    yLabel: "SNIP", yOff: 24, yExp: "1e4",
    series: [["mobile", imgSnipMobile], ["mbed", imgSnipMbed], ["res", imgSnipRes], ["squeeze", imgSnipSqueeze], ["sel", imgSnipSel]] },
  { id: "p4", box: [746, 17, 921, 153], x: [-0.13, 7.27], y: [1.34, 5.83], xTicks: xTicksImg, yTicks: yTicksImgZico,
    yLabel: "ZiCo", yOff: 24, yExp: "1e2",
    series: [["mobile", imgZicoMobile], ["mbed", imgZicoMbed], ["res", imgZicoRes], ["squeeze", imgZicoSqueeze], ["sel", imgZicoSel]] },
  { id: "p5", box: [59, 278, 233, 413], x: [-0.175, 4.175], y: [-42, 0.63], xTicks: xTicksTs, yTicks: yTicksTsMeco,
    yLabel: "MeCo", yOff: 42, yExp: "",
    series: [["inception", tsMecoIncep], ["mbed", tsMecoMbed], ["sel", tsMecoSel]],
    legend: { w: 124, h: 54, right: 5, bottom: 6, rowTop: 10, step: 16.5 } },
  { id: "p6", box: [289, 277, 463, 413], x: [-0.15, 4.15], y: [10.64, 14.76], xTicks: xTicksTs, yTicks: yTicksTsNaswot,
    yLabel: "NASWOT", yOff: 32, yExp: "",
    series: [["inception", tsNaswotIncep], ["mbed", tsNaswotMbed], ["sel", tsNaswotSel]] },
  { id: "p7", box: [519, 277, 693, 413], x: [-0.175, 4.175], y: [-0.16, 7.25], xTicks: xTicksTs, yTicks: yTicksTsSnip,
    yLabel: "SNIP", yOff: 25, yExp: "1e3",
    series: [["inception", tsSnipIncep], ["mbed", tsSnipMbed], ["sel", tsSnipSel]] },
  { id: "p8", box: [749, 277, 923, 413], x: [-0.175, 4.175], y: [0.089, 1.036], xTicks: xTicksTs, yTicks: yTicksTsZico,
    yLabel: "ZiCo", yOff: 36, yExp: "1e3", yFixed: 1,
    series: [["inception", tsZicoIncep], ["mbed", tsZicoMbed], ["sel", tsZicoSel]] }
];

const PAD_LEFT = 60, PAD_TOP = 22, PAD_RIGHT = 4, PAD_BOTTOM = 45;

function fmtTick(v, fixed) {
  const s = fixed ? Math.abs(v).toFixed(fixed) : String(Math.abs(v));
  return v < 0 ? "\u2212" + s : s;
}

function drawMarker(ctx, st, x, y) {
  ctx.save();
  ctx.translate(x, y);
  ctx.fillStyle = st.fill;
  ctx.strokeStyle = st.line;
  ctx.lineWidth = st.lw;
  ctx.beginPath();
  if (st.style === "circle") {
    ctx.arc(0, 0, st.r, 0, Math.PI * 2);
    ctx.fill();
    if (st.lw > 0) ctx.stroke();
  } else if (st.style === "triangle") {
    if (st.rot) ctx.rotate(st.rot * Math.PI / 180);
    const r = st.r;
    ctx.moveTo(0, -r);
    ctx.lineTo(r * Math.sin(Math.PI * 2 / 3), -r * Math.cos(Math.PI * 2 / 3));
    ctx.lineTo(-r * Math.sin(Math.PI * 2 / 3), -r * Math.cos(Math.PI * 2 / 3));
    ctx.closePath();
    ctx.fill();
  } else {
    const d = st.r * Math.SQRT1_2;
    ctx.moveTo(-d, -d); ctx.lineTo(d, d);
    ctx.moveTo(-d, d); ctx.lineTo(d, -d);
    ctx.stroke();
  }
  ctx.restore();
}

function framePlugin(p) {
  return {
    id: "frame-" + p.id,
    afterDraw(chart) {
      const a = chart.chartArea;
      const ctx = chart.ctx;
      ctx.save();
      ctx.strokeStyle = "#000";
      ctx.lineWidth = 1;
      ctx.strokeRect(Math.round(a.left) - 0.5, Math.round(a.top) - 0.5,
                     Math.round(a.right - a.left) + 1, Math.round(a.bottom - a.top) + 1);

      ctx.fillStyle = "#000";
      ctx.font = "12px " + FONT;
      ctx.textBaseline = "middle";
      ctx.textAlign = "center";
      ctx.fillText("Compute [FLOPs]", (a.left + a.right) / 2, a.bottom + 26);
      ctx.textAlign = "right";
      ctx.fillText("1e8", a.right, a.bottom + 26);

      ctx.save();
      ctx.translate(a.left - p.yOff, (a.top + a.bottom) / 2);
      ctx.rotate(-Math.PI / 2);
      ctx.textAlign = "center";
      ctx.fillText(p.yLabel, 0, 0);
      ctx.restore();

      if (p.yExp) {
        ctx.textAlign = "left";
        ctx.textBaseline = "bottom";
        ctx.fillText(p.yExp, a.left, a.top - 1);
      }

      if (p.legend) {
        const lg = p.legend;
        const lx = a.right - lg.right - lg.w;
        const ly = a.bottom - lg.bottom - lg.h;
        ctx.beginPath();
        ctx.roundRect(lx + 0.5, ly + 0.5, lg.w, lg.h, 3);
        ctx.fillStyle = "rgba(255,255,255,0.8)";
        ctx.fill();
        ctx.strokeStyle = "rgba(204,204,204,0.8)";
        ctx.lineWidth = 1;
        ctx.stroke();
        ctx.textAlign = "left";
        ctx.textBaseline = "middle";
        p.series.forEach((s, i) => {
          const st = STYLES[s[0]];
          const yy = ly + lg.rowTop + i * lg.step;
          drawMarker(ctx, st, lx + 17, yy);
          ctx.fillStyle = "#000";
          ctx.font = "12px " + FONT;
          ctx.fillText(st.label, lx + 38, yy);
        });
      }
      ctx.restore();
    }
  };
}

function scaleOpts(p, axis) {
  const isX = axis === "x";
  const range = isX ? p.x : p.y;
  const ticks = isX ? p.xTicks : p.yTicks;
  return {
    type: "linear",
    min: range[0],
    max: range[1],
    afterFit: s => {
      if (isX) s.height = PAD_BOTTOM;
      else s.width = PAD_LEFT;
    },
    afterBuildTicks: s => { s.ticks = ticks.map(v => ({ value: v })); },
    grid: { drawOnChartArea: false, drawTicks: true, tickLength: 4, color: "#000", lineWidth: 1 },
    border: { display: false },
    ticks: {
      color: "#000",
      font: { family: FONT, size: 12 },
      padding: isX ? 1 : 2,
      maxRotation: 0,
      autoSkip: false,
      callback: v => fmtTick(v, isX ? 0 : p.yFixed)
    }
  };
}

panels.forEach(p => {
  const [l, t, r, b] = p.box;
  const canvas = document.getElementById(p.id);
  canvas.width = (r - l) + PAD_LEFT + PAD_RIGHT;
  canvas.height = (b - t) + PAD_TOP + PAD_BOTTOM;
  canvas.style.left = (l - PAD_LEFT) + "px";
  canvas.style.top = (t - PAD_TOP) + "px";

  const datasets = p.series.map(([kind, rows]) => {
    const st = STYLES[kind];
    return {
      label: st.label,
      data: rows.map(row => ({ x: row[0], y: row[1] })),
      order: st.order,
      pointStyle: st.style,
      pointRadius: st.r,
      pointRotation: st.rot,
      pointBackgroundColor: st.fill,
      pointBorderColor: st.line,
      pointBorderWidth: st.lw,
      backgroundColor: st.fill,
      borderColor: st.line
    };
  });

  new Chart(canvas, {
    type: "scatter",
    data: { datasets },
    options: {
      responsive: false,
      animation: false,
      events: [],
      layout: { padding: { left: 0, top: PAD_TOP, right: PAD_RIGHT, bottom: 0 } },
      plugins: { legend: { display: false }, tooltip: { enabled: false } },
      scales: { x: scaleOpts(p, "x"), y: scaleOpts(p, "y") }
    },
    plugins: [framePlugin(p)]
  });
});
</script>
</body>
</html>
